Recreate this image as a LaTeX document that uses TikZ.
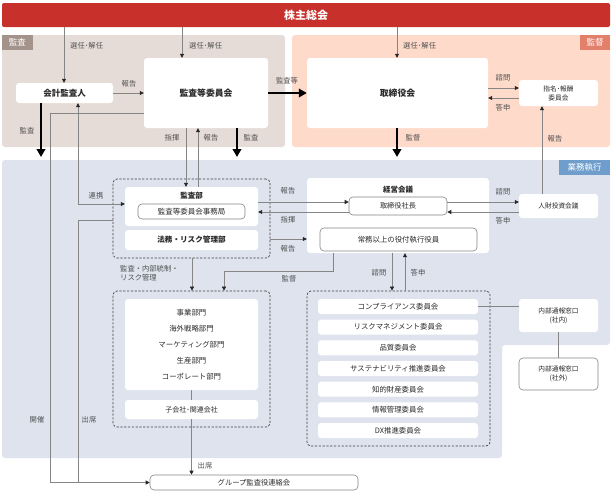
\documentclass[tikz,border=0pt]{standalone}
\usepackage{fontspec}
\setmainfont{Noto Sans CJK JP}
\usetikzlibrary{arrows.meta,calc}
\pgfdeclarelayer{regions}
\pgfdeclarelayer{under}
\pgfsetlayers{regions,under,main}
\definecolor{kred}{HTML}{C8302B}
\definecolor{kansabg}{HTML}{E6DCD7}
\definecolor{kansatag}{HTML}{A4938B}
\definecolor{kantokubg}{HTML}{FDDACA}
\definecolor{kantokutag}{HTML}{E3806C}
\definecolor{gyomubg}{HTML}{DEE3EE}
\definecolor{gyomutag}{HTML}{6F9ECC}
\definecolor{linegray}{HTML}{858585}
\definecolor{txtgray}{HTML}{505050}
\definecolor{darktxt}{HTML}{2A2A2A}
\newcommand\fsz[2]{\fontsize{#1}{#2}\selectfont}
\newcommand\cornerbox[7]{%
  \node[#1, minimum width={(#5-#3)*1pt}, minimum height={(#6-#4)*1pt}] (#2) at ({(#3+#5)/2},{(#4+#6)/2}) {#7};}
\begin{document}
\begin{tikzpicture}[x=1pt,y=-1pt,
  box/.style={fill=white, rounded corners=3pt, inner sep=0pt, text=darktxt, font=\fsz{7.2}{9.5}, align=center},
  obox/.style={box, draw=linegray, line width=0.6pt, rounded corners=4pt},
  bbox/.style={box, font=\bfseries\fsz{8.8}{10}},
  grp/.style={draw=black!75, dash pattern=on 2.2pt off 1.6pt, line width=0.7pt, rounded corners=4pt, inner sep=0pt},
  tag/.style={inner sep=0pt, text=white, font=\fsz{8.5}{10}},
  title/.style={inner sep=0pt, text=darktxt, font=\bfseries\fsz{7.5}{9}},
  lbl/.style={text=txtgray, font=\fsz{7.3}{8.5}, inner sep=0pt},
  ln/.style={draw=linegray, line width=0.65pt},
  arr/.style={ln, -{Triangle[length=4pt,width=4pt,color=black!85]}},
  barr/.style={ln, {Triangle[length=4pt,width=4pt,color=black!85]}-{Triangle[length=4pt,width=4pt,color=black!85]}},
  fat/.style={line width=2.2pt, draw=black, -{Triangle[length=8pt,width=8.5pt]}}
]
\useasboundingbox (0,0) rectangle (612,491);

\begin{pgfonlayer}{regions}
\fill[kansabg, rounded corners=3pt] (2,35) rectangle (285,147);
\fill[kantokubg, rounded corners=3pt] (292,35) rectangle (610,147);
\fill[gyomubg, rounded corners=3pt] (2,160) -- (610,160) -- (610,345) -- (502,345) -- (502,458) -- (2,458) -- cycle;
\end{pgfonlayer}

% tags
\cornerbox{tag, fill=kansatag}{tagKansa}{2}{35}{33}{50}{監査}
\cornerbox{tag, fill=kantokutag}{tagKantoku}{580}{35}{610}{50}{監督}
\cornerbox{tag, fill=gyomutag}{tagGyomu}{559}{160}{610}{175}{業務執行}

% header
\cornerbox{fill=kred, rounded corners=2pt, inner sep=0pt, text=white, font=\bfseries\fsz{11}{12}}{share}{2}{3}{610}{27}{株主総会}

% top nodes
\cornerbox{bbox, font=\bfseries\fsz{8.5}{10}}{kaikei}{16}{83}{113}{103}{会計監査人}
\cornerbox{bbox}{kansaiin}{144}{58}{268}{128}{監査等委員会}
\cornerbox{bbox}{tori}{307}{58}{488}{128}{取締役会}
\cornerbox{box, font=\fsz{6.7}{9}}{shimei}{519}{80}{598}{106}{指名･報酬\\委員会}

% audit dept group
\cornerbox{grp}{kgroup}{113}{179}{270}{258}{}
\cornerbox{box}{kansabu}{125}{187}{258}{226}{}
\node[title] (kansabuT) at (191.5,196) {監査部};
\cornerbox{obox, font=\fsz{7.5}{9}}{jimu}{138}{204}{245}{219}{監査等委員会事務局}
\cornerbox{box, font=\bfseries\fsz{7.6}{9}}{houmu}{125}{230}{258}{250}{法務・リスク管理部}

% management meeting
\cornerbox{box}{keiei}{307}{178}{489}{253}{}
\node[title] (keieiT) at (398,190) {経営会議};
\cornerbox{obox}{shacho}{349}{197}{447}{215}{取締役社長}
\cornerbox{obox, font=\fsz{7.4}{9}}{jomu}{320}{228}{477}{251}{常務以上の役付執行役員}
\cornerbox{box, font=\fsz{6.7}{9}}{jinzai}{519}{194}{598}{218}{人財投資会議}

% business divisions
\cornerbox{grp}{jgroup}{113}{291}{270}{427}{}
\cornerbox{box, font=\fsz{7.4}{16}}{jigyo}{125}{299}{258}{390}{事業部門\\海外戦略部門\\マーケティング部門\\生産部門\\コーポレート部門}
\cornerbox{box, font=\fsz{7}{9}}{kogai}{125}{400}{258}{419}{子会社･関連会社}

% committees
\cornerbox{grp}{cgroup}{307}{291}{490}{446}{}
\foreach \t [count=\i] in {コンプライアンス委員会,リスクマネジメント委員会,品質委員会,サステナビリティ推進委員会,知的財産委員会,情報管理委員会,DX推進委員会}{
  \pgfmathsetmacro\ytop{299+(\i-1)*20.67}
  \cornerbox{box, font=\fsz{7.4}{9}}{c\i}{318}{\ytop}{478}{\ytop+15}{\t}
}
\cornerbox{box, font=\fsz{6.7}{9}}{naibuA}{519}{299}{598}{332}{内部通報窓口\\(社内)}
\cornerbox{obox, font=\fsz{6.7}{9}}{naibuB}{519}{358}{598}{390}{内部通報窓口\\(社外)}
\cornerbox{obox, font=\fsz{7.3}{9}}{group}{150}{475}{358}{490}{グループ監査役連絡会}

% free ends of thick arrows
\coordinate (endA) at (41,157);
\coordinate (endB) at (237,157);
\coordinate (endC) at (397,157);

% connectors: shareholders
\draw[arr] (share.south -| 64,0) -- (kaikei.north -| 64,0);
\draw[arr] (share.south -| 182,0) -- (kansaiin.north -| 182,0);
\draw[arr] (share.south -| 397,0) -- (tori.north -| 397,0);
\node[lbl, anchor=west] (l1) at (70,46) {選任･解任};
\node[lbl, anchor=west] (l2) at (189,46) {選任･解任};
\node[lbl, anchor=west] (l3) at (403,46) {選任･解任};

\draw[arr] (kaikei.east) -- (kansaiin.west);
\node[lbl] (l4) at (129,84) {報告};
\draw[fat] (kansaiin.east) -- (tori.west);
\node[lbl] (l5) at (287,81) {監査等};
\draw[arr] (tori.east |- 0,88) -- (shimei.west |- 0,88);
\node[lbl] (l6) at (503,78) {諮問};
\draw[arr] (shimei.west |- 0,98) -- (tori.east |- 0,98);
\node[lbl] (l7) at (503,108) {答申};

\draw[fat] (kaikei.south -| endA) -- (endA);
\node[lbl] (l8) at (27,131) {監査};
\draw[fat] (kansaiin.south -| endB) -- (endB);
\node[lbl] (l9) at (251,138) {監査};
\draw[fat] (tori.south -| endC) -- (endC);
\node[lbl] (l10) at (413,138) {監督};

\draw[arr] (kansaiin.south -| 186,0) -- (kansabu.north -| 186,0);
\node[lbl] (l11) at (172,138) {指揮};
\draw[arr] (kansabu.north -| 198,0) -- (kansaiin.south -| 198,0);
\node[lbl] (l12) at (211,138) {報告};

\draw[barr] (kansabu.west |- 0,204) -| (kaikei.south -| 78,0);
\node[lbl] (l13) at (96,196) {連携};

\draw[arr] (kansaiin.west |- 0,113) -| (group.west -| 50,0) -- (group.west);
\node[lbl] (l14) at (37,420) {開催};
\draw[ln] (kgroup.west |- 0,220) -| (group.west -| 78,0);
\node[lbl] (l15) at (89,420) {出席};

\draw[arr] (kgroup.south -| 192,0) -- (jgroup.north -| 192,0);
\node[lbl, anchor=north west, align=left, font=\fsz{7.3}{9}] (l16) at (120,265.5) {監査・内部統制・\\リスク管理};
\draw[arr] (keiei.south -| 333,0) -- ++(0,18) -| (jgroup.north -| 224,0);
\node[lbl] (l17) at (289,279) {監督};

\draw[arr] (kansabu.east |- 0,202) -- (shacho.west |- 0,202);
\node[lbl] (l18) at (288,191) {報告};
\draw[arr] (shacho.west |- 0,212) -- (kansabu.east |- 0,212);
\node[lbl] (l19) at (288,220) {指揮};
\draw[arr] (kgroup.east |- 0,239) -- (keiei.west |- 0,239);
\node[lbl] (l20) at (288,249) {報告};

\draw[arr] (shacho.east |- 0,202) -- (jinzai.west |- 0,202);
\node[lbl] (l21) at (503,192) {諮問};
\draw[arr] (jinzai.west |- 0,212) -- (shacho.east |- 0,212);
\node[lbl] (l22) at (503,221) {答申};
\draw[arr] (jinzai.north -| 542,0) -- (shimei.south -| 542,0);
\node[lbl] (l23) at (555,139) {報告};

\draw[arr] (keiei.south -| 392,0) -- (cgroup.north -| 392,0);
\node[lbl] (l24) at (379,273) {諮問};
\draw[arr] (cgroup.north -| 405,0) -- (keiei.south -| 405,0);
\node[lbl] (l25) at (418,273) {答申};

\draw[ln] (c1.east) -- (naibuA.west |- c1.east);
\draw[ln] (naibuA.south) -- (naibuB.north);

\begin{pgfonlayer}{under}
\draw[arr] (jigyo.south) -- (group.north -| jigyo.south);
\end{pgfonlayer}
\node[lbl] (l26) at (205,466) {出席};
\end{tikzpicture}
\end{document}
